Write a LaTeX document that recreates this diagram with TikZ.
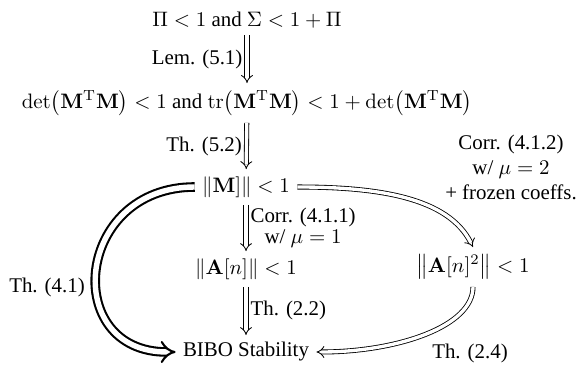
\documentclass[tikz,border=0pt]{standalone}
\usepackage[no-math]{fontspec}
\setmainfont{Liberation Serif}
\usepackage{amsmath}
\usetikzlibrary{arrows.meta}
\begin{document}
\begin{tikzpicture}[x=0.4785pt,y=-0.4785pt,
  imp/.style={double, double distance=1.6pt, line width=0.4pt, -{Implies}},
  thickimp/.style={double, double distance=2.6pt, line width=1pt, -{Implies}},
  lbl/.style={inner sep=2pt, align=center}]
\useasboundingbox (0,0) rectangle (581,367);
\node (n1) at (247,20) {$\Pi < 1$ and $\Sigma < 1 + \Pi$};
\node (n2) at (247,103) {$\det\bigl(\mathbf{M}^{\mathrm{T}}\mathbf{M}\bigr) < 1$ and $\operatorname{tr}\bigl(\mathbf{M}^{\mathrm{T}}\mathbf{M}\bigr) < 1 + \det\bigl(\mathbf{M}^{\mathrm{T}}\mathbf{M}\bigr)$};
\node (n3) at (246,187) {$\|\mathbf{M}]\| < 1$};
\node (n4) at (246,269) {$\|\mathbf{A}[n]\| < 1$};
\node (n5) at (473,267) {$\bigl\|\mathbf{A}[n]^2\bigr\| < 1$};
\node (n6) at (246,352) {BIBO Stability};
\draw[imp] (n1) -- node[lbl, left] {Lem. (5.1)} (n2);
\draw[imp] (n2) -- node[lbl, left] {Th. (5.2)} (n3);
\draw[imp] (n3) -- node[lbl, right] {Corr. (4.1.1)\\[-2pt] w/ $\mu = 1$} (n4);
\draw[imp] (n4) -- node[lbl, right] {Th. (2.2)} (n6);
\draw[imp] (n3.east) .. controls +(80,0) and +(-25,-50) .. (n5.north);
\node[lbl] (l412) at (511,167) {Corr. (4.1.2)\\ w/ $\mu = 2$\\ + frozen coeffs.};
\draw[imp] (n5.south) .. controls +(0,40) and +(80,0) .. (n6.east);
\node[lbl] (l24) at (470,353) {Th. (2.4)};
\draw[thickimp] (n3.west) .. controls +(-120,0) and +(-115,0) .. (n6.west);
\node[lbl] (l41) at (47,287) {Th. (4.1)};
\end{tikzpicture}
\end{document}
